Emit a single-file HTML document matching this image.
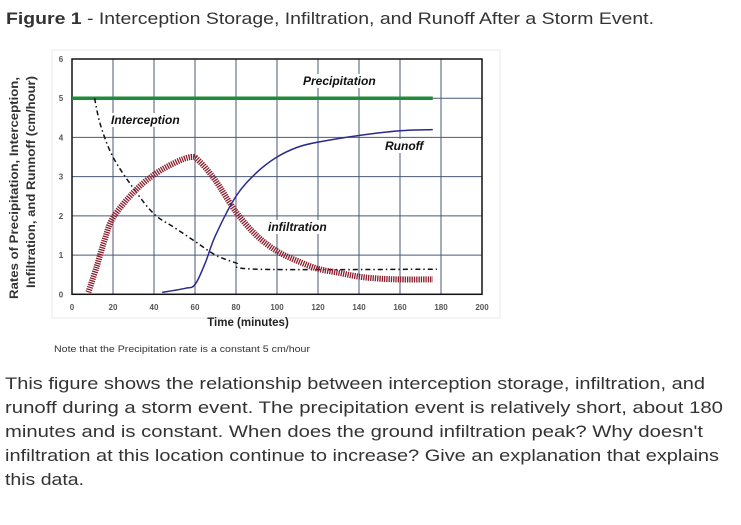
<!DOCTYPE html>
<html><head><meta charset="utf-8"><style>
body{margin:0;background:#fff;}
svg{display:block;font-family:"Liberation Sans",sans-serif;}
</style></head><body>
<svg id="c" width="741" height="525" viewBox="0 0 741 525">
<text x="6" y="24" font-size="17" fill="#333" textLength="648" lengthAdjust="spacingAndGlyphs"><tspan font-weight="bold">Figure 1</tspan>  - Interception Storage, Infiltration, and Runoff After a Storm Event.</text>
<rect x="52" y="50" width="448" height="268" fill="none" stroke="#e8e8e8"/>
<g id="grid"></g>
<g id="marks"></g>
<g id="labels"></g>
<text x="248" y="326" text-anchor="middle" font-size="11.5" font-weight="bold" fill="#222">Time (minutes)</text>
<text transform="translate(18,188) rotate(-90)" text-anchor="middle" font-size="12" font-weight="bold" fill="#333" textLength="222" lengthAdjust="spacingAndGlyphs">Rates of Precipitation, Interception,</text>
<text transform="translate(35,182) rotate(-90)" text-anchor="middle" font-size="12" font-weight="bold" fill="#333" textLength="212" lengthAdjust="spacingAndGlyphs">Infiltration, and Runnoff (cm/hour)</text>
<text x="54" y="352" font-size="9.5" fill="#333" textLength="256" lengthAdjust="spacingAndGlyphs">Note that the Precipitation rate is a constant 5 cm/hour</text>
<g font-size="17" fill="#333">
<text x="5" y="389" textLength="700" lengthAdjust="spacingAndGlyphs">This figure shows the relationship between interception storage, infiltration, and</text>
<text x="5" y="413" textLength="718" lengthAdjust="spacingAndGlyphs">runoff during a storm event.  The precipitation event is relatively short, about 180</text>
<text x="5" y="437" textLength="698" lengthAdjust="spacingAndGlyphs">minutes and is constant. When does the ground infiltration peak?   Why doesn't</text>
<text x="5" y="461" textLength="714" lengthAdjust="spacingAndGlyphs">infiltration at this location continue to increase? Give an explanation that explains</text>
<text x="5" y="485" textLength="79" lengthAdjust="spacingAndGlyphs">this data.</text>
</g>
</svg>
<script>
const xTicks=[0,20,40,60,80,100,120,140,160,180,200];
const yTicks=[0,1,2,3,4,5,6];
const precipT=[0,176];
const precipV=[5,5];
const interT=[11,14,20,30,40,50,60,70,80,90,178];
const interV=[5,4.3,3.5,2.7,2.05,1.7,1.35,1.0,0.8,0.64,0.64];
const infilT=[8,12,16,20,30,40,50,58,62,70,80,90,100,110,120,130,140,150,160,176];
const infilV=[0.05,0.7,1.4,1.95,2.6,3.05,3.35,3.5,3.4,2.9,2.1,1.5,1.1,0.85,0.65,0.55,0.45,0.4,0.38,0.38];
const runT=[44,55,60,65,70,80,90,100,110,120,140,160,176];
const runV=[0.05,0.15,0.25,0.8,1.5,2.5,3.1,3.5,3.75,3.88,4.05,4.17,4.2];
const X0=72,X1=482,Y0=294.3,Y1=59;
const sx=t=>X0+(X1-X0)*t/200, sy=v=>Y0-(Y0-Y1)*v/6;
const NS="http://www.w3.org/2000/svg";
function mk(tag,parent,attrs){const e=document.createElementNS(NS,tag);for(const k in attrs)e.setAttribute(k,attrs[k]);parent.appendChild(e);return e;}
const grid=document.getElementById('grid'),marks=document.getElementById('marks'),labels=document.getElementById('labels');
xTicks.forEach(t=>{const l=mk('line',grid,{x1:sx(t),x2:sx(t),y1:Y1,y2:Y0,stroke:'#4a5a78','stroke-width':1});


const tx=mk('text',grid,{x:sx(t),y:310,'text-anchor':'middle','font-size':8,'font-weight':'bold',fill:'#555'});tx.textContent=t;

});
yTicks.forEach(v=>{const l=mk('line',grid,{x1:X0,x2:X1,y1:sy(v),y2:sy(v),stroke:'#4a5a78','stroke-width':1});


const tx=mk('text',grid,{x:61,y:sy(v)+3,'text-anchor':'middle','font-size':8,'font-weight':'bold',fill:'#555'});tx.textContent=v;

});
const fr=mk('rect',grid,{x:X0,y:Y1,width:X1-X0,height:Y0-Y1,fill:'none',stroke:'#111','stroke-width':1.5});


function path(T,V){return T.map((t,i)=>(i?'L':'M')+sx(t).toFixed(1)+','+sy(V[i]).toFixed(1)).join(' ');}
function smooth(T,V){const p=T.map((t,i)=>[sx(t),sy(V[i])]);let d='M'+p[0];for(let i=0;i<p.length-1;i++){const a=p[i-1]||p[i],b=p[i],c=p[i+1],e=p[i+2]||c;d+=' C'+(b[0]+(c[0]-a[0])/6)+','+(b[1]+(c[1]-a[1])/6)+' '+(c[0]-(e[0]-b[0])/6)+','+(c[1]-(e[1]-b[1])/6)+' '+c;}return d;}
const pr=mk('path',marks,{d:path(precipT,precipV),stroke:'#1e8c3a','stroke-width':3.5,fill:'none'});


const ic=mk('path',marks,{d:smooth(interT,interV),stroke:'#111','stroke-width':1.5,fill:'none','stroke-dasharray':'5 3 1.5 3'});


const inf=mk('path',marks,{d:smooth(infilT,infilV),stroke:'#8a1c2c','stroke-width':6,fill:'none','stroke-dasharray':'1.3 1'});


const ro=mk('path',marks,{d:smooth(runT,runV),stroke:'#2a2a8c','stroke-width':1.5,fill:'none'});


function lab(txt,x,y,name,bg){if(bg){mk('rect',labels,{x:x-2,y:y-11,width:txt.length*6.4+4,height:14,fill:'#fff'});}
const t=mk('text',labels,{x:x,y:y,'font-size':12,'font-weight':'bold','font-style':'italic',fill:'#111'});t.textContent=txt;

}
lab('Precipitation',303,85,'precipitation-label',true);
lab('Interception',111,124,'interception-label',true);
lab('Runoff',385,150,'runoff-label',true);
lab('infiltration',268,231,'infiltration-label',true);
</script>
</body></html>
